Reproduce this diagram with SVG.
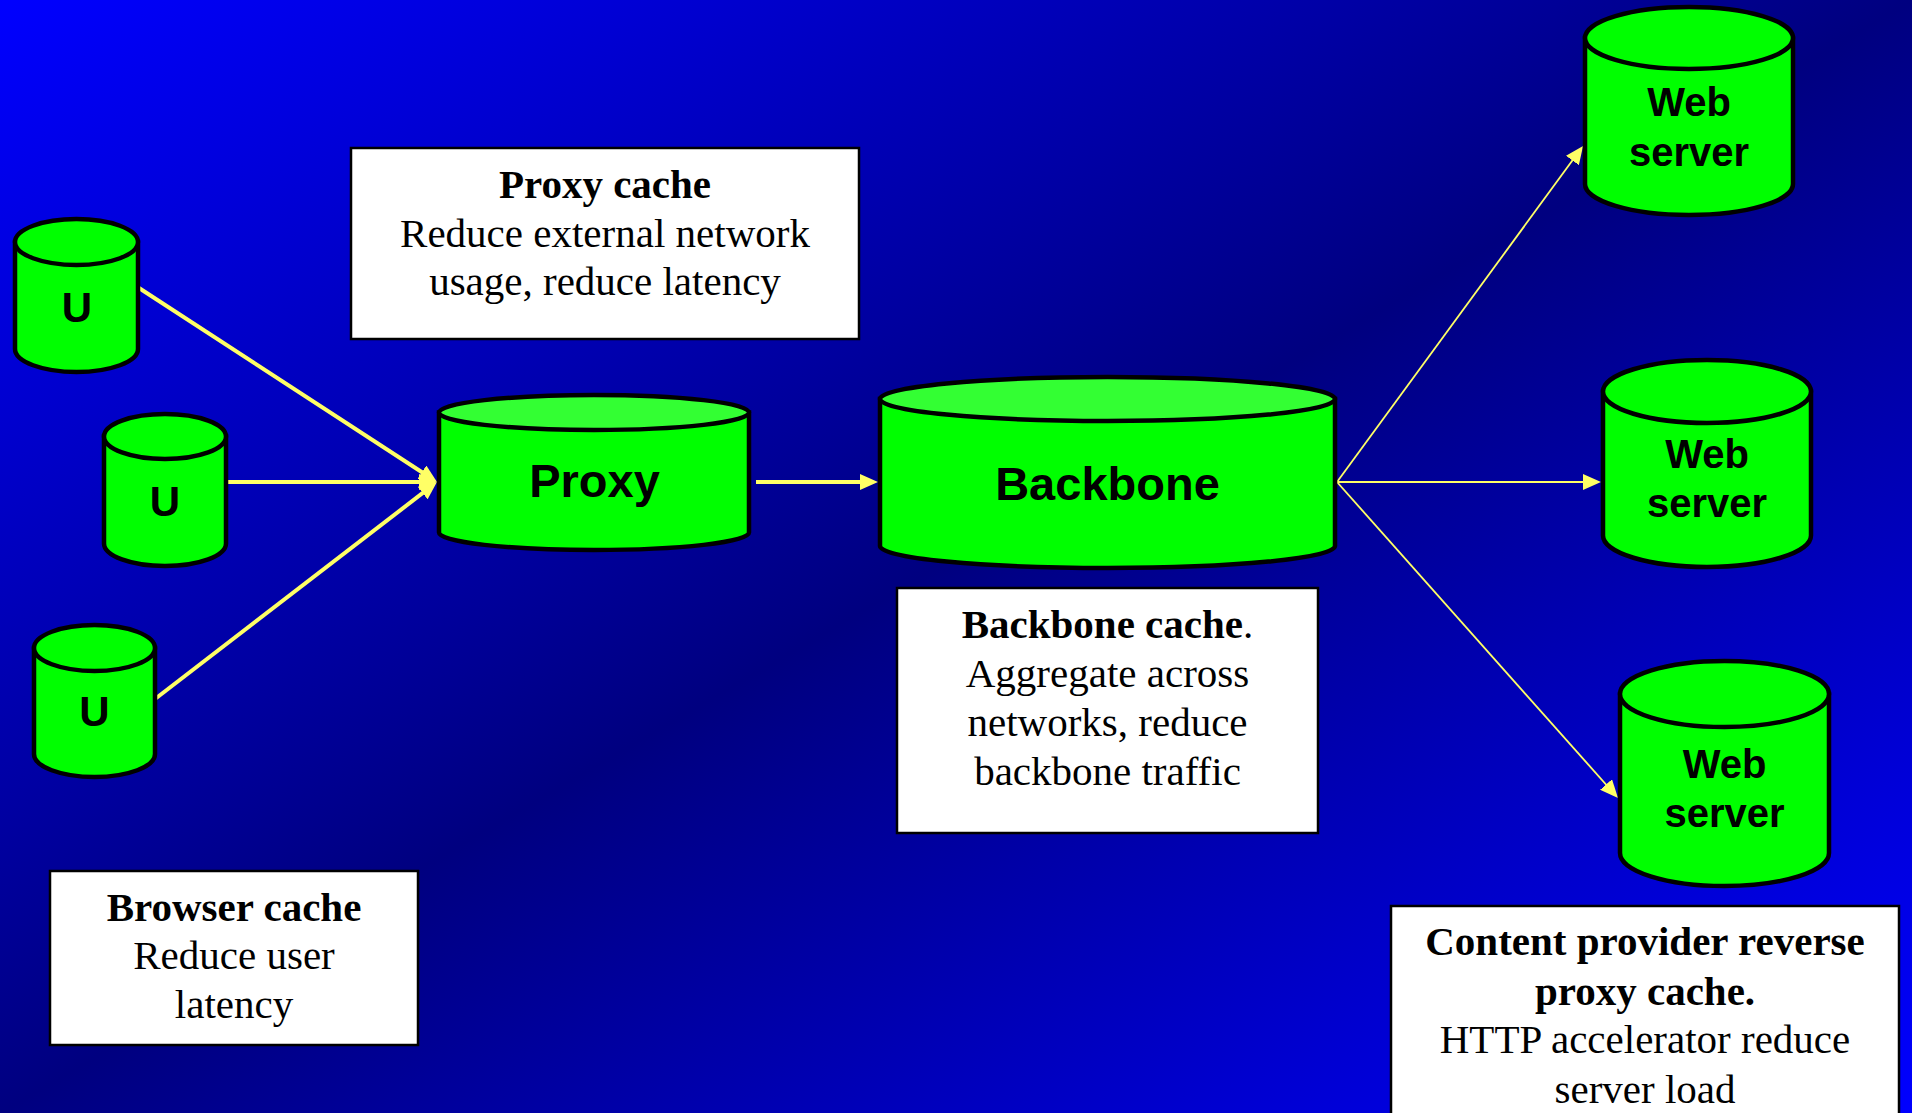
<svg xmlns="http://www.w3.org/2000/svg" width="1912" height="1113" viewBox="0 0 1912 1113">
  <defs>
    <linearGradient id="bg" x1="0" y1="0" x2="1" y2="1">
      <stop offset="0" stop-color="#0000ff"/>
      <stop offset="0.5" stop-color="#000080"/>
      <stop offset="1" stop-color="#0000ff"/>
    </linearGradient>
    <!-- arrowhead; tip sits 6px past the line end -->
    <marker id="head" viewBox="0 0 18 16" refX="12" refY="8" markerWidth="18" markerHeight="16" markerUnits="userSpaceOnUse" orient="auto">
      <path d="M0,0 L18,8 L0,16 Z" fill="#ffff66"/>
    </marker>
    <style>
      .cyl { fill: #00ff00; stroke: #000; stroke-width: 4.5; }
      .lite { fill: #33ff33; }
      .lbl { font-family: "Liberation Sans", Arial, sans-serif; font-weight: bold; text-anchor: middle; fill: #000; }
      .note rect { fill: #fff; stroke: #000; stroke-width: 2.5; }
      .note text { font-family: "Liberation Serif", "Times New Roman", serif; font-size: 41px; text-anchor: middle; fill: #000; }
      .b { font-weight: bold; }
      .thick { stroke: #ffff66; stroke-width: 4; fill: none; }
      .thin { stroke: #ffff66; stroke-width: 1.8; fill: none; }
    </style>
  </defs>

  <rect x="0" y="0" width="1912" height="1113" fill="url(#bg)"/>

  <!-- connectors -->
  <g id="connectors">
    <line class="thick" x1="139" y1="288" x2="432" y2="478.7" marker-end="url(#head)"/>
    <line class="thick" x1="228" y1="482" x2="431" y2="482" marker-end="url(#head)"/>
    <line class="thick" x1="155" y1="699" x2="432.2" y2="485.7" marker-end="url(#head)"/>
    <line class="thick" x1="756" y1="482" x2="872" y2="482" marker-end="url(#head)"/>
    <line class="thin" x1="1337" y1="482" x2="1579.5" y2="150.8" marker-end="url(#head)"/>
    <line class="thin" x1="1337" y1="482" x2="1595" y2="482" marker-end="url(#head)"/>
    <line class="thin" x1="1337" y1="482" x2="1614" y2="793.5" marker-end="url(#head)"/>
  </g>

  <!-- user caches -->
  <g id="user1">
    <path class="cyl" d="M15,242 V349 A61.5,23 0 0 0 138,349 V242 Z"/>
    <ellipse class="cyl" cx="76.5" cy="242" rx="61.5" ry="23"/>
    <text class="lbl" x="77" y="322" font-size="42">U</text>
  </g>
  <g id="user2">
    <path class="cyl" d="M104,436.5 V543.5 A61,22.5 0 0 0 226,543.5 V436.5 Z"/>
    <ellipse class="cyl" cx="165" cy="436.5" rx="61" ry="22.5"/>
    <text class="lbl" x="165" y="516" font-size="42">U</text>
  </g>
  <g id="user3">
    <path class="cyl" d="M34,648 V754 A60.5,23 0 0 0 155,754 V648 Z"/>
    <ellipse class="cyl" cx="94.5" cy="648" rx="60.5" ry="23"/>
    <text class="lbl" x="94.5" y="726" font-size="42">U</text>
  </g>

  <!-- proxy and backbone caches -->
  <g id="proxy">
    <path class="cyl" d="M439,412.5 V532.5 A155,17.5 0 0 0 749,532.5 V412.5 Z"/>
    <ellipse class="cyl lite" cx="594" cy="412.5" rx="155" ry="17.5"/>
    <text class="lbl" x="594.5" y="497" font-size="47">Proxy</text>
  </g>
  <g id="backbone">
    <path class="cyl" d="M880,399 V546 A227.5,22 0 0 0 1335,546 V399 Z"/>
    <ellipse class="cyl lite" cx="1107.5" cy="399" rx="227.5" ry="22"/>
    <text class="lbl" x="1107.5" y="500" font-size="47">Backbone</text>
  </g>

  <!-- origin web servers -->
  <g id="web1">
    <path class="cyl" d="M1585,38 V184 A104,31 0 0 0 1793,184 V38 Z"/>
    <ellipse class="cyl" cx="1689" cy="38" rx="104" ry="31"/>
    <text class="lbl" x="1689" y="116" font-size="40">Web</text>
    <text class="lbl" x="1689" y="166" font-size="40">server</text>
  </g>
  <g id="web2">
    <path class="cyl" d="M1603,391.5 V535.5 A104,31.5 0 0 0 1811,535.5 V391.5 Z"/>
    <ellipse class="cyl" cx="1707" cy="391.5" rx="104" ry="31.5"/>
    <text class="lbl" x="1707" y="468" font-size="40">Web</text>
    <text class="lbl" x="1707" y="517" font-size="40">server</text>
  </g>
  <g id="web3">
    <path class="cyl" d="M1620,694 V853 A104.5,33 0 0 0 1829,853 V694 Z"/>
    <ellipse class="cyl" cx="1724.5" cy="694" rx="104.5" ry="33"/>
    <text class="lbl" x="1724.5" y="778" font-size="40">Web</text>
    <text class="lbl" x="1724.5" y="827" font-size="40">server</text>
  </g>

  <!-- notes -->
  <g id="note-proxy" class="note">
    <rect x="351" y="148" width="508" height="191"/>
    <text x="605" y="198" class="b">Proxy cache</text>
    <text x="605" y="247">Reduce external network</text>
    <text x="605" y="295">usage, reduce latency</text>
  </g>
  <g id="note-backbone" class="note">
    <rect x="897" y="588" width="421" height="245"/>
    <text x="1107.5" y="638"><tspan class="b">Backbone cache</tspan>.</text>
    <text x="1107.5" y="687">Aggregate across</text>
    <text x="1107.5" y="736">networks, reduce</text>
    <text x="1107.5" y="785">backbone traffic</text>
  </g>
  <g id="note-browser" class="note">
    <rect x="50" y="871" width="368" height="174"/>
    <text x="234" y="921" class="b">Browser cache</text>
    <text x="234" y="969">Reduce user</text>
    <text x="234" y="1018">latency</text>
  </g>
  <g id="note-reverse" class="note">
    <rect x="1391" y="906" width="508" height="230"/>
    <text x="1645" y="955" class="b">Content provider reverse</text>
    <text x="1645" y="1005" class="b">proxy cache.</text>
    <text x="1645" y="1053">HTTP accelerator reduce</text>
    <text x="1645" y="1103">server load</text>
  </g>
</svg>
